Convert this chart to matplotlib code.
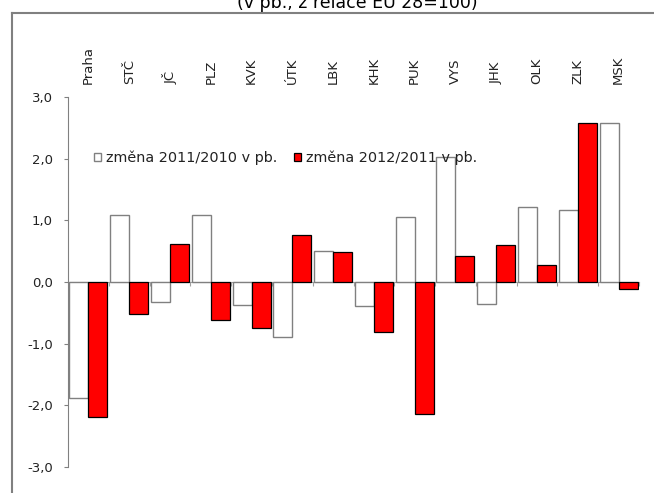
import numpy as np
import matplotlib.pyplot as plt
from matplotlib.lines import Line2D
from matplotlib.transforms import blended_transform_factory

###### DATA ##########
regions = ['Praha', 'STČ', 'JČ', 'PLZ', 'KVK', 'ÚTK', 'LBK', 'KHK', 'PUK',
           'VYS', 'JHK', 'OLK', 'ZLK', 'MSK']
change_2011 = [-1.89, 1.09, -0.32, 1.09, -0.37, -0.89, 0.51, -0.39, 1.05,
               2.03, -0.35, 1.22, 1.17, 2.59]
change_2012 = [-2.19, -0.52, 0.62, -0.61, -0.74, 0.76, 0.49, -0.82, -2.14,
               0.42, 0.60, 0.27, 2.59, -0.11]
labels = ['změna 2011/2010 v pb.', 'změna 2012/2011 v pb.']
yticks = [-3.0, -2.0, -1.0, 0.0, 1.0, 2.0, 3.0]
title = '(v pb., z relace EU 28=100)'
#########################

W, H = 654, 493
fig = plt.figure(figsize=(W / 100, H / 100), dpi=100)
ax = fig.add_axes([68 / W, 1 - 466.7 / H, 571 / W, 369.4 / H])

x = np.arange(len(regions))
bw = 0.465
ax.bar(x - bw / 2, change_2011, bw, color='white', edgecolor='#808080',
       linewidth=1.0, label=labels[0], zorder=3)
ax.bar(x + bw / 2, change_2012, bw, color='#ff0000', edgecolor='black',
       linewidth=0.9, label=labels[1], zorder=3)

ax.set_xlim(-0.5, len(regions) - 0.5)
ax.set_ylim(-3, 3)

# axes styling
for s in ['top', 'right']:
    ax.spines[s].set_visible(False)
ax.spines['left'].set_color('#808080')
ax.spines['bottom'].set_position(('data', 0))
ax.spines['bottom'].set_color('#a0a0a0')
ax.spines['bottom'].set_zorder(2)

ax.set_yticks(yticks)
ax.set_yticklabels([('%.1f' % v).replace('.', ',') for v in yticks])
ax.tick_params(axis='y', length=3, color='#808080', pad=8, labelsize=9.5,
               labelcolor='#222222')
ax.set_xticks(np.arange(0.5, len(regions) - 0.4, 1.0))
ax.tick_params(axis='x', length=3, color='#a0a0a0', direction='out',
               labelbottom=False)

# category labels on top
trans = blended_transform_factory(ax.transData, ax.transAxes)
for i, r in enumerate(regions):
    ax.text(i, (466.7 - 84) / 369.4, r, rotation=90, ha='center', va='bottom',
            fontsize=9.5, color='#222222', transform=trans)

leg = ax.legend(loc='center left', bbox_to_anchor=((94 - 68) / 571, (466.7 - 158) / 369.4),
                ncol=2, frameon=False, fontsize=10.4, handlelength=0.5,
                handleheight=0.5, handletextpad=0.35, columnspacing=1.15,
                borderpad=0, borderaxespad=0)
leg.set_zorder(5)
for t in leg.get_texts():
    t.set_color('#222222')

# outer frame and cut title
fig.text(357 / W, 1 - 8 / H, title, ha='center', va='baseline', fontsize=12.5)
fig.add_artist(Line2D([12 / W, 12 / W], [0, 1 - 13 / H], color='#808080', lw=1.5))
fig.add_artist(Line2D([12 / W, 1], [1 - 13 / H, 1 - 13 / H], color='#808080', lw=1.5))

fig.savefig('out.png', dpi=100)
